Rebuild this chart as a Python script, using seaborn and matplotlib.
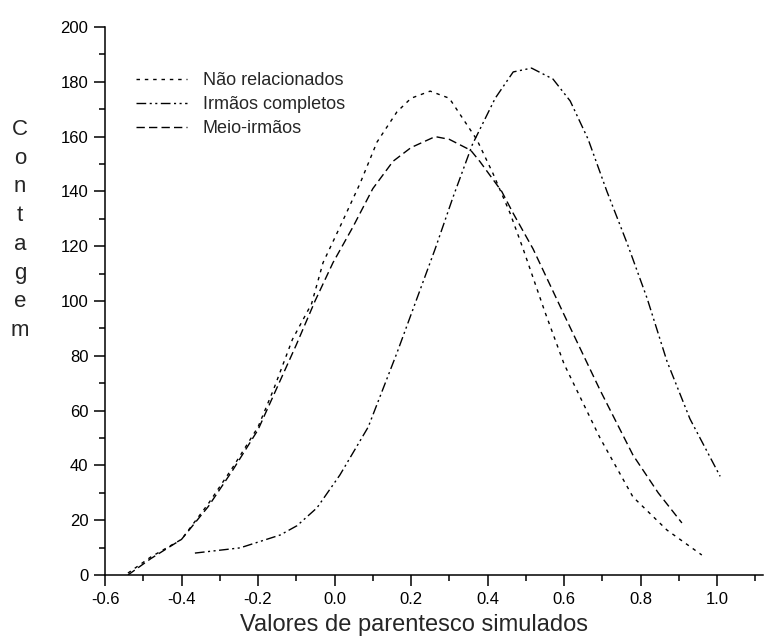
import pandas as pd
import seaborn as sns
from matplotlib import pyplot as plt
from matplotlib.ticker import MultipleLocator

# values
series_names = ["Não relacionados", "Irmãos completos", "Meio-irmãos"]

nao_x = [-0.54, -0.48, -0.40, -0.33, -0.265, -0.20, -0.16, -0.11, -0.06, -0.03,
         0.014, 0.067, 0.111, 0.163, 0.20, 0.25, 0.30, 0.372, 0.414, 0.459,
         0.493, 0.55, 0.60, 0.694, 0.78, 0.869, 0.96]
nao_y = [0.7, 6.6, 13, 26, 39.5, 54, 67.5, 86, 99, 114,
         127, 143, 158, 169, 174, 176.6, 174, 158.9, 146.6, 132,
         119, 96, 77, 50, 28.5, 16.4, 7.3]

irmaos_x = [-0.365, -0.247, -0.142, -0.098, -0.046, 0.014, 0.088, 0.163, 0.263,
            0.31, 0.36, 0.42, 0.467, 0.515, 0.571, 0.616, 0.663, 0.712, 0.765,
            0.817, 0.869, 0.929, 1.008]
irmaos_y = [8, 9.9, 14.6, 18, 24.5, 36.5, 54, 81, 119,
            138, 157, 174, 183.6, 185, 181, 173, 159, 140, 121,
            101, 78, 57, 36]

meio_x = [-0.54, -0.48, -0.40, -0.33, -0.265, -0.20, -0.10, -0.051, -0.004, 0.048,
          0.10, 0.153, 0.20, 0.263, 0.30, 0.356, 0.38, 0.437, 0.467, 0.519,
          0.60, 0.694, 0.78, 0.846, 0.908]
meio_y = [0, 6, 13, 25, 38.5, 53, 84, 100, 114, 127,
          141, 151, 156, 160, 159, 155, 150.9, 140, 132, 119,
          95, 67.5, 43.8, 30, 19]

df = pd.concat([
    pd.DataFrame({"x": nao_x, "y": nao_y, "serie": series_names[0]}),
    pd.DataFrame({"x": irmaos_x, "y": irmaos_y, "serie": series_names[1]}),
    pd.DataFrame({"x": meio_x, "y": meio_y, "serie": series_names[2]}),
])

sns.set_theme(style="ticks")
plt.rcParams["font.family"] = ["Liberation Sans", "DejaVu Sans"]

fig = plt.figure(figsize=(7.68, 6.43), dpi=100)
ax = fig.add_axes([105 / 768, 68 / 643, 658 / 768, 548 / 643])

sns.lineplot(
    data=df, x="x", y="y", hue="serie", style="serie",
    hue_order=series_names, style_order=series_names,
    palette=["black"] * 3,
    dashes={series_names[0]: (2.5, 3.5),
            series_names[1]: (7, 2.5, 1.5, 2.5, 1.5, 2.5),
            series_names[2]: (6, 3)},
    estimator=None, sort=False, linewidth=1.0, ax=ax,
)

ax.set_xlim(-0.6, 1.12)
ax.set_ylim(0, 200)
ax.xaxis.set_major_locator(MultipleLocator(0.2))
ax.xaxis.set_minor_locator(MultipleLocator(0.1))
ax.yaxis.set_major_locator(MultipleLocator(20))
ax.yaxis.set_minor_locator(MultipleLocator(10))
ax.set_xticks([-0.6, -0.4, -0.2, 0.0, 0.2, 0.4, 0.6, 0.8, 1.0])
ax.set_xticklabels(["-0.6", "-0.4", "-0.2", "0.0", "0.2", "0.4", "0.6", "0.8", "1.0"])
ax.tick_params(which="major", direction="out", length=8, width=1.1,
               labelsize=12, colors="black", pad=4)
ax.tick_params(which="minor", direction="out", length=4.5, width=1.1, colors="black")

for side in ["top", "right"]:
    ax.spines[side].set_visible(False)
for side in ["left", "bottom"]:
    ax.spines[side].set_linewidth(1.1)
    ax.spines[side].set_color("black")

ax.set_xlabel("Valores de parentesco simulados", fontsize=17)
ax.xaxis.set_label_coords(0.47, -0.091, transform=ax.transAxes)
ax.xaxis.label.set_va("center")
ax.set_ylabel("")

# stacked vertical axis title
fig.text(20 / 768, 1 - 230 / 643, "C\no\nn\nt\na\ng\ne\nm", fontsize=16,
         ha="center", va="center", multialignment="center", linespacing=1.48)

handles, labels = ax.get_legend_handles_labels()
ax.legend(handles, labels, loc="upper left", frameon=False, fontsize=13,
          bbox_to_anchor=(136 / 768, 1 - 72 / 643), bbox_transform=fig.transFigure,
          borderpad=0, borderaxespad=0, handlelength=2.8, handletextpad=0.9,
          labelspacing=0.4)

plt.savefig("out.png", dpi=100)
